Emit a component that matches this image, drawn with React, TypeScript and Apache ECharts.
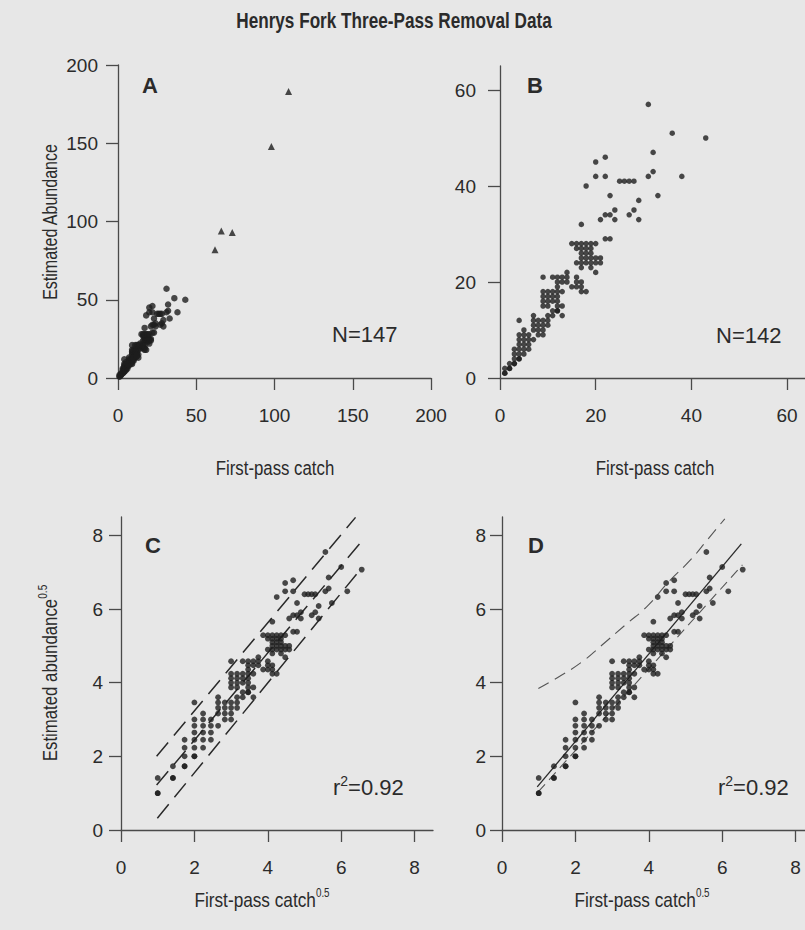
import React, { useEffect, useRef } from "react";
import * as echarts from "echarts";

// Observations (integer counts): first-pass catch and estimated abundance
const firstPass = [
  1, 1, 1, 2, 2, 2, 3, 3, 3, 4, 4, 3, 4, 5, 3, 4, 5, 6, 4, 5,
  6, 4, 5, 6, 7, 4, 5, 4, 7, 8, 9, 7, 8, 9, 10, 7, 8, 9, 10, 7,
  9, 8, 11, 13, 11, 12, 9, 10, 12, 13, 9, 10, 11, 12, 9, 10, 11, 12, 9, 10,
  11, 12, 13, 12, 12, 13, 14, 9, 11, 12, 13, 14, 14, 15, 16, 17, 16, 17, 16, 17,
  18, 20, 19, 17, 16, 17, 18, 19, 20, 21, 17, 18, 19, 20, 21, 17, 18, 19, 16, 17,
  18, 19, 15, 16, 17, 18, 19, 20, 23, 17, 21, 24, 29, 22, 23, 27, 24, 28, 29, 23,
  33, 18, 25, 26, 27, 28, 20, 22, 31, 38, 32, 20, 22, 32, 36, 43, 31, 6, 5, 22,
  10, 12
];
const abundance = [
  1, 1, 2, 2, 2, 3, 3, 3, 4, 4, 4, 5, 5, 5, 6, 6, 6, 6, 7, 7,
  7, 8, 8, 8, 8, 9, 9, 12, 10, 10, 10, 11, 11, 11, 11, 12, 12, 12, 12, 13,
  9, 9, 13, 13, 14, 14, 15, 15, 15, 15, 16, 16, 16, 16, 17, 17, 17, 17, 18, 18,
  18, 18, 18, 19, 20, 20, 20, 21, 21, 21, 21, 21, 22, 19, 19, 19, 20, 20, 21, 18,
  18, 22, 23, 23, 24, 24, 24, 24, 24, 24, 25, 25, 25, 25, 25, 26, 26, 26, 27, 27,
  27, 27, 28, 28, 28, 28, 28, 28, 29, 32, 33, 33, 33, 34, 34, 34, 35, 35, 37, 38,
  38, 40, 41, 41, 41, 41, 42, 42, 42, 42, 43, 45, 46, 47, 51, 50, 57, 9, 10, 29,
  13, 14
];
// Five large samples shown as triangles in panel A
const outlierFirstPass = [62, 66, 73, 98, 109];
const outlierAbundance = [82, 94, 93, 148, 183];

// Fitted line and bounds (square-root scale), panel C
const cUpperX = [0.97, 6.39];
const cUpperY = [2.0, 8.49];
const cFitX = [0.97, 6.5];
const cFitY = [1.22, 7.77];
const cLowerX = [0.99, 6.46];
const cLowerY = [0.32, 7.0];
// Panel D
const dFitX = [0.96, 6.52];
const dFitY = [1.17, 7.77];
const dLowerX = [0.99, 6.55];
const dLowerY = [1.04, 7.2];
const dUpperX = [0.99, 1.53, 2.17, 2.71, 3.35, 3.98, 4.53, 5.16, 5.61, 6.07];
const dUpperY = [3.84, 4.15, 4.56, 5.01, 5.56, 6.1, 6.73, 7.36, 7.9, 8.45];

// Tick values
const ticksA = [0, 50, 100, 150, 200];
const ticksB = [0, 20, 40, 60];
const ticksCD = [0, 2, 4, 6, 8];

const FONT = "'Liberation Sans', Arial, sans-serif";
const TXT = "#2b2b2b";
const AX = "#4a4a4a";

const pairs = (xs: number[], ys: number[]) => xs.map((x, i) => [x, ys[i]]);
const sqrtPairs = (xs: number[], ys: number[]) => xs.map((x, i) => [Math.sqrt(x), Math.sqrt(ys[i])]);

function axis(gridIndex: number, min: number, max: number, ticks: number[], isX: boolean, yMargin = 24) {
  return {
    type: "value",
    gridIndex,
    min,
    max,
    splitLine: { show: false },
    axisLine: { show: true, onZero: false, lineStyle: { color: AX, width: 1.3 } },
    axisTick: { show: true, inside: false, length: 12, customValues: ticks, lineStyle: { color: AX, width: 1.3 } },
    axisLabel: {
      customValues: ticks,
      color: TXT,
      fontSize: 19,
      fontFamily: FONT,
      margin: isX ? 28 : yMargin,
    },
  };
}

export default function App() {
  const ref = useRef<HTMLDivElement>(null);
  useEffect(() => {
    if (!ref.current) return;
    const chart = echarts.init(ref.current, null, { renderer: "svg" });
    const dot = (xi: number, data: number[][], size: number) => ({
      type: "scatter",
      xAxisIndex: xi,
      yAxisIndex: xi,
      data,
      symbol: "circle",
      symbolSize: size,
      itemStyle: { color: "#1e1e1e" },
      z: 3,
    });
    const line = (xi: number, xs: number[], ys: number[], dash: any, width: number, color: string, smooth = false) => ({
      type: "line",
      xAxisIndex: xi,
      yAxisIndex: xi,
      data: pairs(xs, ys),
      showSymbol: false,
      symbol: "none",
      smooth,
      lineStyle: { type: dash, width, color },
      z: 2,
    });
    const txt = (text: string, x: number, y: number, size: number, opts: any = {}) => ({
      type: "text",
      x,
      y,
      rotation: opts.rotation || 0,
      scaleX: opts.scaleX || 1,
      style: {
        text,
        fill: TXT,
        fontSize: size,
        fontFamily: FONT,
        fontWeight: opts.bold ? "bold" : "normal",
        align: opts.align || "left",
        verticalAlign: "middle",
        lineHeight: opts.lineHeight,
        rich: opts.rich
          ? { sup: { fontSize: opts.supSize || 12, fontFamily: FONT, fill: TXT, verticalAlign: "top", lineHeight: 11 } }
          : undefined,
      },
    });
    chart.setOption({
      animation: false,
      backgroundColor: "#e7e7e7",
      grid: [
        { left: 118, top: 65, width: 313, height: 313, outerBoundsMode: "none" },
        { left: 500, top: 66, width: 311, height: 312, outerBoundsMode: "none" },
        { left: 121, top: 517, width: 312, height: 313, outerBoundsMode: "none" },
        { left: 502, top: 517, width: 312, height: 313, outerBoundsMode: "none" },
      ],
      xAxis: [
        axis(0, 0, 200, ticksA, true),
        axis(1, 0, 65, ticksB, true),
        axis(2, 0, 8.5, ticksCD, true),
        axis(3, 0, 8.5, ticksCD, true),
      ],
      yAxis: [
        axis(0, 0, 200, ticksA, false, 20),
        axis(1, 0, 65, ticksB, false, 24),
        axis(2, 0, 8.5, ticksCD, false, 18),
        axis(3, 0, 8.5, ticksCD, false, 16),
      ],
      series: [
        dot(0, pairs(firstPass, abundance), 6.5),
        {
          type: "scatter",
          xAxisIndex: 0,
          yAxisIndex: 0,
          data: pairs(outlierFirstPass, outlierAbundance),
          symbol: "triangle",
          symbolSize: 7,
          itemStyle: { color: "#1e1e1e" },
        },
        dot(1, pairs(firstPass, abundance), 5.5),
        line(2, cUpperX, cUpperY, [18, 9], 1.5, "#2a2a2a"),
        line(2, cFitX, cFitY, [18, 9], 1.5, "#2a2a2a"),
        line(2, cLowerX, cLowerY, [18, 9], 1.5, "#2a2a2a"),
        dot(2, sqrtPairs(firstPass, abundance), 5.8),
        line(3, dUpperX, dUpperY, [12, 7], 1.1, "#555555", true),
        line(3, dFitX, dFitY, "solid", 1.3, "#2a2a2a"),
        line(3, dLowerX, dLowerY, [10, 6], 1.1, "#555555"),
        dot(3, sqrtPairs(firstPass, abundance), 5.8),
      ],
      graphic: [
        txt("Henrys Fork Three-Pass Removal Data", 394, 20, 22, { bold: true, align: "center", scaleX: 0.78 }),
        txt("A", 142, 85, 22, { bold: true }),
        txt("B", 527, 85, 22, { bold: true }),
        txt("C", 145, 545, 22, { bold: true }),
        txt("D", 528, 545, 22, { bold: true }),
        txt("N=147", 332, 334, 22),
        txt("N=142", 716, 335, 22),
        txt("r{sup|2}=0.92", 333, 787, 22, { rich: true, lineHeight: 26, supSize: 14 }),
        txt("r{sup|2}=0.92", 718, 787, 22, { rich: true, lineHeight: 26, supSize: 14 }),
        txt("Estimated Abundance", 50, 222, 20, { align: "center", rotation: Math.PI / 2, scaleX: 0.8 }),
        txt("First-pass catch", 275, 468, 21, { align: "center", scaleX: 0.8 }),
        txt("First-pass catch", 655, 468, 21, { align: "center", scaleX: 0.8 }),
        txt("Estimated abundance{sup|0.5}", 50, 673, 20, { align: "center", rotation: Math.PI / 2, rich: true, lineHeight: 26, scaleX: 0.84 }),
        txt("First-pass catch{sup|0.5}", 262, 900, 21, { align: "center", rich: true, lineHeight: 26, scaleX: 0.82 }),
        txt("First-pass catch{sup|0.5}", 642, 900, 21, { align: "center", rich: true, lineHeight: 26, scaleX: 0.82 }),
      ],
    });
    return () => chart.dispose();
  }, []);
  return (
    <div
      ref={ref}
      style={{ position: "absolute", left: 0, top: 0, width: 805, height: 930 }}
    />
  );
}
